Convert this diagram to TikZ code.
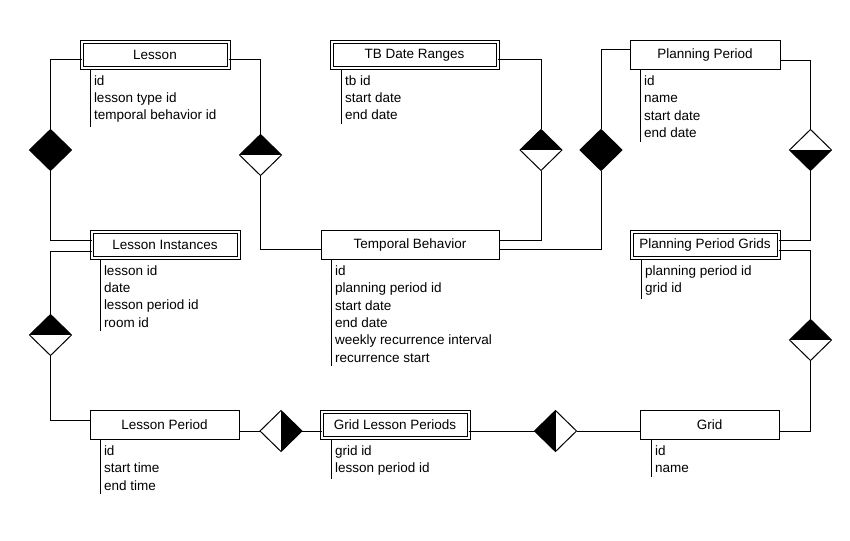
\documentclass[tikz,border=0pt]{standalone}
\usepackage{fontspec}
\setmainfont{Liberation Sans}
\usetikzlibrary{positioning, shapes.geometric}

\begin{document}
\begin{tikzpicture}[
    x=1pt, y=-1pt, line width=1pt,
    every node/.style={font=\fontsize{13.5}{17.3}\selectfont},
    entity/.style={rectangle, draw, minimum height=29pt, minimum width=150pt, inner sep=0pt, outer sep=0pt},
    weak/.style={entity, double, double distance=2pt, minimum height=26pt, minimum width=147pt},
    attrs/.style={align=left, inner sep=4pt, outer sep=0pt},
    rel/.style={diamond, draw, fill=white, minimum width=42pt, minimum height=41pt, inner sep=0pt, outer sep=0pt},
    full/.style={rel, fill=black},
    tophalf/.style={rel, path picture={\fill[black] (path picture bounding box.west) rectangle (path picture bounding box.north east);}},
    bothalf/.style={rel, path picture={\fill[black] (path picture bounding box.south west) rectangle (path picture bounding box.east);}},
    lefthalf/.style={rel, path picture={\fill[black] (path picture bounding box.south west) rectangle (path picture bounding box.north);}},
    righthalf/.style={rel, path picture={\fill[black] (path picture bounding box.south) rectangle (path picture bounding box.north east);}}
]
\useasboundingbox (0,0) rectangle (850,540);

% entities
\node[weak] (lesson) at (155,55) {Lesson};
\node[weak, minimum width=166pt] (tbdr) at (414.5,55) {TB Date Ranges};
\node[entity] (pp) at (705,55) {Planning Period};
\node[weak] (li) at (165,245) {Lesson Instances};
\node[entity, minimum width=178pt] (tb) at (410,245) {Temporal Behavior};
\node[weak] (ppg) at (705,245) {Planning Period Grids};
\node[entity, minimum width=149pt] (lp) at (164.5,425) {Lesson Period};
\node[weak] (glp) at (395,425) {Grid Lesson Periods};
\node[entity, minimum width=139pt] (grid) at (709.5,425) {Grid};

% attributes
\node[attrs, below right=1pt and 8.5pt of lesson.south west] (lesson-at) {\strut id\\lesson type id\\temporal behavior id};
\node[attrs, below right=1pt and 9.5pt of tbdr.south west] (tbdr-at) {\strut tb id\\start date\\end date};
\node[attrs, below right=0pt and 10pt of pp.south west] (pp-at) {\strut id\\name\\start date\\end date};
\node[attrs, below right=1pt and 8.5pt of li.south west] (li-at) {\strut lesson id\\date\\lesson period id\\room id};
\node[attrs, below right=0pt and 10pt of tb.south west] (tb-at) {\strut id\\planning period id\\start date\\end date\\weekly recurrence interval\\recurrence start};
\node[attrs, below right=1pt and 9.5pt of ppg.south west] (ppg-at) {\strut planning period id\\grid id};
\node[attrs, below right=0pt and 10pt of lp.south west] (lp-at) {\strut id\\start time\\end time};
\node[attrs, below right=1pt and 9.5pt of glp.south west] (glp-at) {\strut grid id\\lesson period id};
\node[attrs, below right=0pt and 11pt of grid.south west] (grid-at) {\strut id\\name};
\foreach \a in {lesson-at, tbdr-at, pp-at, li-at, tb-at, ppg-at, lp-at, glp-at, grid-at}
    \draw (\a.north west) -- (\a.south west);

% relationships
\node[full] (d1) at (50.5,150) {};
\node[tophalf] (d2) at (260.5,155) {};
\node[tophalf] (d3) at (541,150) {};
\node[full] (d4) at (601,150) {};
\node[bothalf] (d5) at (810.5,150) {};
\node[tophalf] (d6) at (50.5,335) {};
\node[tophalf] (d7) at (810.5,340) {};
\node[righthalf] (d8) at (281,431) {};
\node[lefthalf] (d9) at (555.5,431) {};

% connectors
\draw ([yshift=-5pt]lesson.west) -| (d1.north);
\draw (d1.south) |- ([yshift=5pt]li.west);
\draw ([yshift=-5pt]lesson.east) -| (d2.north);
\draw (d2.south) |- ([yshift=-4pt]tb.west);
\draw ([yshift=-5pt]tbdr.east) -| (d3.north);
\draw (d3.south) |- ([yshift=5pt]tb.east);
\draw ([yshift=5pt]pp.west) -| (d4.north);
\draw (d4.south) |- ([yshift=-4pt]tb.east);
\draw ([yshift=-5.5pt]pp.east) -| (d5.north);
\draw (d5.south) |- ([yshift=5pt]ppg.east);
\draw ([yshift=-6pt]li.west) -| (d6.north);
\draw (d6.south) |- ([yshift=5pt]lp.west);
\draw ([yshift=-5pt]ppg.east) -| (d7.north);
\draw (d7.south) |- ([yshift=-6pt]grid.east);
\draw ([yshift=-6pt]lp.east) -- (d8.west);
\draw (d8.east) -- ([yshift=-6pt]glp.west);
\draw ([yshift=-6pt]glp.east) -- (d9.west);
\draw (d9.east) -- ([yshift=-6pt]grid.west);
\end{tikzpicture}
\end{document}
